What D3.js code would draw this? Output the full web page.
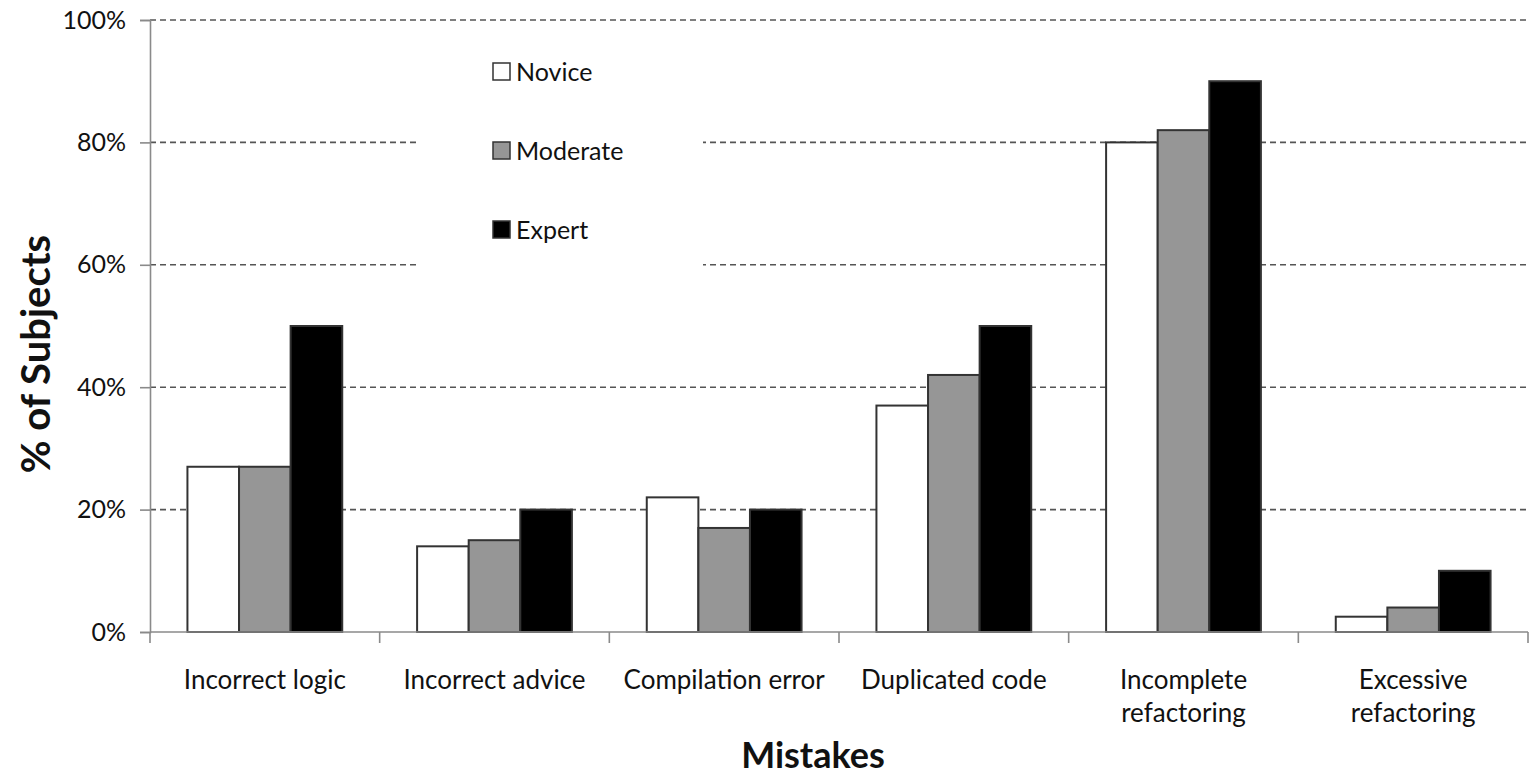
<!DOCTYPE html>
<html>
<head>
<meta charset="utf-8">
<script src="https://cdn.jsdelivr.net/npm/d3@7"></script>
<style>
  html, body { margin: 0; padding: 0; background: #fff; }
  svg { display: block; }
  text { font-family: Lato, "Open Sans", sans-serif; fill: #111; }
</style>
</head>
<body>
<svg id="chart" width="1530" height="777"></svg>
<script>
// Share of subjects making each kind of mistake, by experience level
const categories = ["Incorrect logic", "Incorrect advice", "Compilation error",
                    "Duplicated code", "Incomplete refactoring", "Excessive refactoring"];
const categoryLabelLines = [["Incorrect logic"], ["Incorrect advice"], ["Compilation error"],
                            ["Duplicated code"], ["Incomplete", "refactoring"], ["Excessive", "refactoring"]];
const seriesNames = ["Novice", "Moderate", "Expert"];
const noviceValues   = [0.27, 0.14, 0.22, 0.37, 0.80, 0.025];
const moderateValues = [0.27, 0.15, 0.17, 0.42, 0.82, 0.04];
const expertValues   = [0.50, 0.20, 0.20, 0.50, 0.90, 0.10];
const yTicks = [0, 0.2, 0.4, 0.6, 0.8, 1.0];
const seriesFills = ["#ffffff", "#969696", "#000000"];

const seriesValues = [noviceValues, moderateValues, expertValues];
const rows = categories.map((c, i) => ({
  category: c,
  values: seriesNames.map((s, j) => ({ series: s, value: seriesValues[j][i], idx: j }))
}));

const svg = d3.select("#chart");
const plotLeft = 150, plotRight = 1528, plotTop = 20, plotBottom = 632;

const x = d3.scaleBand().domain(categories).range([plotLeft, plotRight]).padding(0);
const bw = x.bandwidth();
const xs = d3.scaleBand().domain(seriesNames).range([bw * 0.163, bw * 0.837]).padding(0);
const y = d3.scaleLinear().domain([0, 1]).range([plotBottom, plotTop]);

// dashed horizontal gridlines
svg.append("g").selectAll("line")
  .data(yTicks.filter(d => d > 0))
  .join("line")
  .attr("x1", plotLeft).attr("x2", plotRight)
  .attr("y1", d => y(d)).attr("y2", d => y(d))
  .attr("stroke", "#555").attr("stroke-width", 1.6)
  .attr("stroke-dasharray", "6,4");

// legend panel (white background hides gridlines behind it)
const legend = svg.append("g");
legend.append("rect")
  .attr("x", 420).attr("y", 30).attr("width", 283).attr("height", 244)
  .attr("fill", "#fff");
const legendBaselines = [81, 160, 239];
seriesNames.forEach((s, i) => {
  legend.append("rect")
    .attr("x", 493).attr("y", legendBaselines[i] - 18)
    .attr("width", 17).attr("height", 17)
    .attr("fill", seriesFills[i]).attr("stroke", "#333").attr("stroke-width", 1.5);
  legend.append("text")
    .attr("x", 516).attr("y", legendBaselines[i])
    .attr("font-size", 25)
    .text(s);
});

// y axis
const yAxis = d3.axisLeft(y).tickValues(yTicks).tickFormat(d3.format(".0%")).tickSize(10).tickPadding(14);
const gy = svg.append("g").attr("transform", `translate(${plotLeft},0)`).call(yAxis);
gy.select(".domain").attr("stroke", "#8a8a8a").attr("stroke-width", 1.6);
gy.selectAll(".tick line").attr("stroke", "#8a8a8a").attr("stroke-width", 1.6);
gy.selectAll(".tick text").attr("font-size", 25).attr("font-family", "Lato, sans-serif").attr("fill", "#111");

// bars
const groups = svg.append("g").selectAll("g")
  .data(rows)
  .join("g")
  .attr("transform", d => `translate(${x(d.category)},0)`);
groups.selectAll("rect")
  .data(d => d.values)
  .join("rect")
  .attr("x", d => xs(d.series))
  .attr("width", xs.bandwidth())
  .attr("y", d => y(d.value))
  .attr("height", d => y(0) - y(d.value))
  .attr("fill", d => seriesFills[d.idx])
  .attr("stroke", "#333").attr("stroke-width", 2);

// x axis baseline and category separators
svg.append("line")
  .attr("x1", plotLeft).attr("x2", plotRight).attr("y1", plotBottom).attr("y2", plotBottom)
  .attr("stroke", "#8a8a8a").attr("stroke-width", 1.6);
const sepPositions = categories.map(c => x(c)).concat([plotRight]);
svg.append("g").selectAll("line")
  .data(sepPositions)
  .join("line")
  .attr("x1", d => d).attr("x2", d => d)
  .attr("y1", plotBottom).attr("y2", plotBottom + 11)
  .attr("stroke", "#8a8a8a").attr("stroke-width", 1.6);

// category labels
svg.append("g").selectAll("text")
  .data(categories)
  .join("text")
  .attr("text-anchor", "middle")
  .attr("font-size", 26)
  .each(function(c, i) {
    const t = d3.select(this);
    categoryLabelLines[i].forEach((line, k) => {
      t.append("tspan")
        .attr("x", x(c) + bw / 2)
        .attr("y", 689 + k * 33)
        .text(line);
    });
  });

// axis titles
svg.append("text")
  .attr("x", 813).attr("y", 768)
  .attr("text-anchor", "middle")
  .attr("font-size", 36).attr("font-weight", "bold")
  .text("Mistakes");

svg.append("text")
  .attr("transform", "translate(50,354) rotate(-90)")
  .attr("text-anchor", "middle")
  .attr("font-size", 40).attr("font-weight", "bold")
  .text("% of Subjects");
</script>
</body>
</html>
